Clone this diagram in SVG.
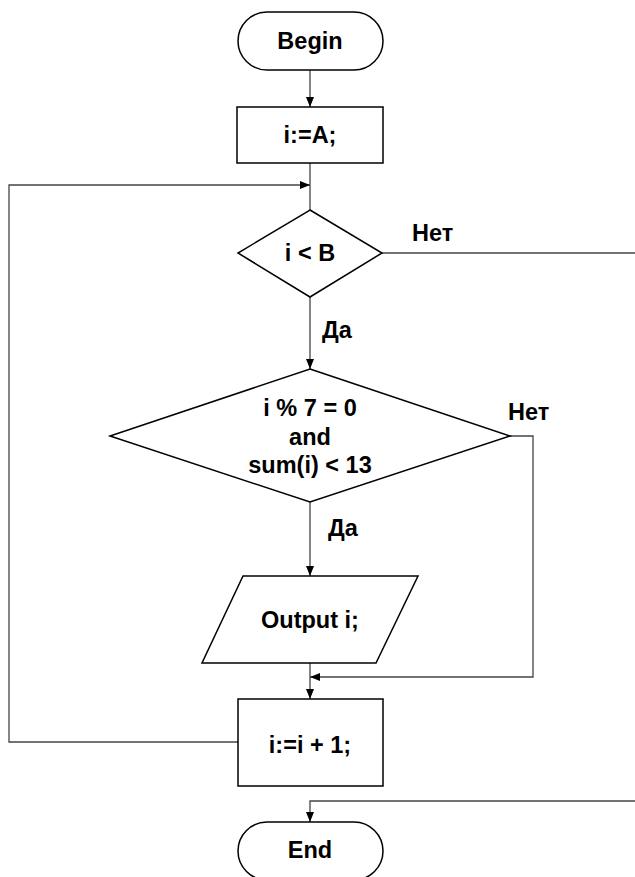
<svg xmlns="http://www.w3.org/2000/svg" width="635" height="877" viewBox="0 0 635 877">
<style>
.s{fill:#fff;stroke:#000;stroke-width:1.5}
.c{fill:none;stroke:#444;stroke-width:1.3}
.t{font-family:"Liberation Sans",Arial,sans-serif;font-weight:bold;font-size:23.5px;fill:#000;text-anchor:middle;dominant-baseline:central}
.l{font-family:"Liberation Sans",Arial,sans-serif;font-weight:bold;font-size:23.5px;fill:#000}
</style>
<defs>
<marker id="a" viewBox="0 0 10 10" refX="10" refY="5" markerWidth="10" markerHeight="10" markerUnits="userSpaceOnUse" orient="auto">
<path d="M0,1 L10,5 L0,9 Z" fill="#000"/>
</marker>
</defs>
<rect width="635" height="877" fill="#fff"/>
<g id="connectors">
<path class="c" d="M310,70 V107" marker-end="url(#a)"/>
<path class="c" d="M310,163 V210"/>
<path class="c" d="M238,742 H9 V185 H310" marker-end="url(#a)"/>
<path class="c" d="M310,297 V369" marker-end="url(#a)"/>
<path class="c" d="M382,253 H640 V801 H310 V822" marker-end="url(#a)"/>
<path class="c" d="M310,502 V576" marker-end="url(#a)"/>
<path class="c" d="M510,436 H533 V677 H310" marker-end="url(#a)"/>
<path class="c" d="M310,663 V699" marker-end="url(#a)"/>
</g>
<g id="begin">
<rect class="s" x="238" y="12" width="145" height="58" rx="29" ry="29"/>
<text class="t" x="310" y="41">Begin</text>
</g>
<g id="init">
<rect class="s" x="237" y="107" width="146" height="56"/>
<text class="t" x="310" y="135">i:=A;</text>
</g>
<g id="cond1">
<polygon class="s" points="310,210 382,253 310,297 238,253"/>
<text class="t" x="310" y="253">i &lt; B</text>
</g>
<g id="cond2">
<polygon class="s" points="310,369 510,436 310,502 110,436"/>
<text class="t" x="310" y="408">i % 7 = 0</text>
<text class="t" x="310" y="437">and</text>
<text class="t" x="310" y="465">sum(i) &lt; 13</text>
</g>
<g id="output">
<polygon class="s" points="243,576 418,576 376,663 202,663"/>
<text class="t" x="310" y="620">Output i;</text>
</g>
<g id="incr">
<rect class="s" x="238" y="699" width="145" height="87"/>
<text class="t" x="310" y="745">i:=i + 1;</text>
</g>
<g id="end">
<rect class="s" x="238" y="822" width="145" height="58" rx="29" ry="29"/>
<text class="t" x="310" y="850">End</text>
</g>
<g id="labels">
<text class="l" x="412" y="241">Нет</text>
<text class="l" x="322" y="338">Да</text>
<text class="l" x="508" y="420">Нет</text>
<text class="l" x="328" y="536">Да</text>
</g>
</svg>
